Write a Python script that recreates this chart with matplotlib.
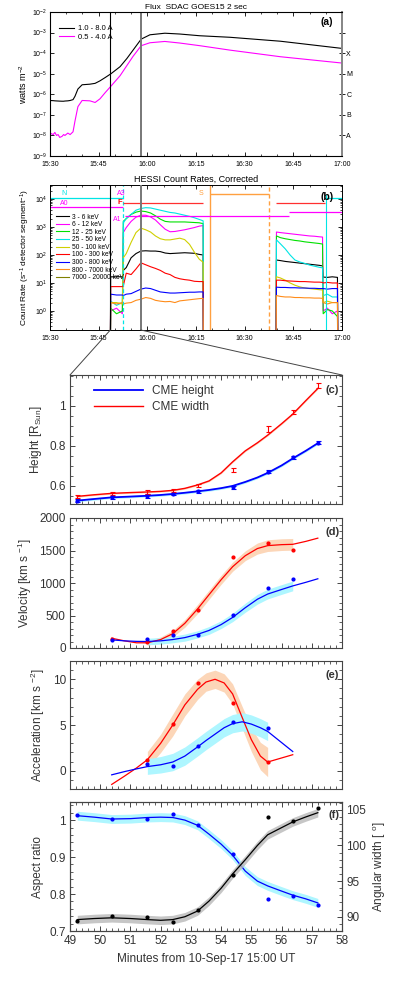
import numpy as np
import matplotlib
matplotlib.use("Agg")
import matplotlib.pyplot as plt
from matplotlib.ticker import MultipleLocator, FuncFormatter, LogLocator, NullFormatter, FixedLocator
from matplotlib.patches import ConnectionPatch

plt.rcParams['font.family'] = ['Liberation Sans', 'DejaVu Sans']
plt.rcParams['mathtext.fontset'] = 'custom'
plt.rcParams['mathtext.rm'] = 'Liberation Sans'
plt.rcParams['mathtext.it'] = 'Liberation Sans:italic'
plt.rcParams['mathtext.bf'] = 'Liberation Sans:bold'

nan = np.nan

# ---------------- (a) GOES-15 flux, time in minutes after 15:00 UT
goes_t = [30, 31.0, 31.5, 32.0, 32.5, 33.0, 33.7, 34.2, 34.6, 35.5, 36.2, 37.1, 37.7, 38.6,
          39.9, 42.3, 43.9, 45.4, 47.0, 48.8, 51.6, 53.7, 55.6, 58.1, 60.8, 65.4, 70.0,
          76.2, 85.5, 101.0, 120.0]
goes_long = [5e-7, 4.9e-7, 4.8e-7, 4.75e-7, 4.7e-7, 4.65e-7, 4.6e-7, 4.6e-7, 4.7e-7, 4.8e-7,
             5e-7, 5.5e-7, 8e-7, 1.8e-6, 2.9e-6, 3.1e-6, 3.4e-6, 4.5e-6, 6.5e-6, 1e-5,
             2.2e-5, 5.5e-5, 1.4e-4, 4.8e-4, 7.8e-4, 9.3e-4, 8.5e-4, 7e-4, 5.9e-4, 3.8e-4, 1.7e-4]
goes_short = [1.3e-8, 1.1e-8, 1.4e-8, 1.0e-8, 1.1e-8, 8e-9, 9e-9, 1.1e-8, 1e-8, 1.3e-8,
              1.1e-8, 1.5e-8, 5e-8, 2.5e-7, 5e-7, 4.8e-7, 4e-7, 6e-7, 1.2e-6, 2.5e-6,
              8e-6, 2.5e-5, 7e-5, 2.3e-4, 3.2e-4, 3.7e-4, 3.1e-4, 2.3e-4, 1.4e-4, 6.7e-5, 3.3e-5]
goes_classes = ['', 'X', 'M', 'C', 'B', 'A']
goes_class_levels = [1e-3, 1e-4, 1e-5, 1e-6, 1e-7, 1e-8]
vline_t = [48.6, 58.0]

# ---------------- (b) RHESSI count rates, log10(counts), F = below axis (no data)
F = -1.5
hessi_t = [48.6, 48.7, 50.5, 52.3, 52.6, 53.5, 55.0, 56.5, 58.0, 59.5, 61.0, 62.5, 64.0, 65.5,
           67.0, 68.5, 70.0, 71.5, 73.0, 74.5, 76.0, 77.2, 77.3,
           99.7, 99.8, 101.0, 102.5, 104.0, 105.5, 107.0, 108.5, 110.0, 111.5, 113.0, 114.0,
           114.2, 115.5, 117.0, 118.6, 118.7]
log_3_6 = [F, 1.22, 1.22, 1.22, 1.45, 1.55, 1.9, 2.05, 2.14, 2.15, 2.14, 2.14, 2.12, 2.07,
           2.05, 2.06, 2.07, 2.08, 2.07, 2.06, 2.02, 2.0, F,
           F, 1.82, 1.8, 1.77, 1.75, 1.73, 1.71, 1.69, 1.67, 1.65, 1.63, 1.61,
           1.21, 1.2, 1.22, 1.2, F]
log_6_12 = [F, 0.0, 0.1, -0.1, 2.8, 2.98, 3.2, 3.35, 3.42, 3.42, 3.36, 3.25, 3.08, 2.92,
            2.83, 2.84, 2.87, 2.9, 2.94, 2.98, 3.03, 3.05, F,
            F, 2.82, 2.8, 2.78, 2.76, 2.74, 2.72, 2.7, 2.68, 2.67, 2.65, 2.64,
            0.0, 0.1, -0.1, 0.0, F]
log_12_25 = [F, 0.1, -0.1, 0.0, 3.2, 3.3, 3.45, 3.53, 3.57, 3.55, 3.5, 3.4, 3.28, 3.2,
             3.18, 3.18, 3.18, 3.18, 3.17, 3.16, 3.15, 3.12, F,
             F, 2.68, 2.62, 2.58, 2.55, 2.52, 2.5, 2.47, 2.45, 2.43, 2.41, 2.39,
             -0.1, 0.05, 0.0, -0.2, F]
log_25_50 = [F, 0.35, 0.2, 0.3, 3.15, 3.3, 3.45, 3.6, 3.66, 3.69, 3.68, 3.64, 3.6, 3.56,
             3.52, 3.5, 3.46, 3.42, 3.38, 3.33, 3.27, 3.22, F,
             F, 2.54, 2.4, 2.22, 2.0, 1.82, 1.75, 1.7, 1.64, 1.6, 1.56, 1.54,
             0.55, 0.6, 0.5, 0.5, F]
log_50_100 = [F, 0.3, 0.3, 0.25, 1.9, 2.05, 2.45, 2.8, 2.96, 2.9, 2.82, 2.68, 2.58, 2.54,
              2.54, 2.57, 2.6, 2.55, 2.38, 2.1, 1.85, 1.74, F,
              F, 1.22, 1.18, 1.1, 1.0, 0.92, 0.86, 0.82, 0.8, 0.78, 0.76, 0.75,
              0.3, 0.35, 0.3, 0.3, F]
log_100_300 = [F, 0.87, 0.87, 0.87, 0.9, 1.35, 1.3, 1.5, 1.72, 1.65, 1.58, 1.52, 1.45, 1.35,
               1.3, 1.2, 1.15, 1.12, 1.1, 1.06, 1.05, 1.05, F,
               F, 1.1, 1.1, 1.08, 1.07, 1.06, 1.05, 1.05, 1.04, 1.03, 1.03, 1.02,
               1.0, 1.02, 1.0, 1.0, F]
log_300_800 = [F, 0.6, 0.57, 0.57, 0.55, 0.6, 0.62, 0.7, 0.78, 0.82, 0.8, 0.74, 0.68, 0.66,
               0.64, 0.64, 0.65, 0.66, 0.67, 0.67, 0.68, 0.68, F,
               F, 0.85, 0.84, 0.84, 0.83, 0.83, 0.82, 0.82, 0.81, 0.81, 0.8, 0.8,
               0.8, 0.78, 0.8, 0.8, F]
log_800_7000 = [F, 0.3, 0.25, 0.3, 0.25, 0.28, 0.3, 0.38, 0.42, 0.48, 0.45, 0.38, 0.35, 0.33,
                0.34, 0.3, 0.36, 0.38, 0.4, 0.42, 0.44, 0.45, F,
                F, 0.55, 0.52, 0.5, 0.5, 0.48, 0.48, 0.47, 0.47, 0.46, 0.46, 0.45,
                0.3, 0.25, 0.3, 0.3, F]
log_7000_20000 = [F] * len(hessi_t)
hessi_labels = ['3 - 6 keV', '6 - 12 keV', '12 - 25 keV', '25 - 50 keV', '50 - 100 keV',
                '100 - 300 keV', '300 - 800 keV', '800 - 7000 keV', '7000 - 20000 keV']
hessi_colors = ['black', '#ff00ff', '#00e000', '#00e5e5', '#d0d000', '#ff0000',
                '#0000ff', '#ff8c1a', '#808000']

# ---------------- (c)-(f) CME kinematics, minutes after 15:00 UT
t_obs = [49.24, 50.38, 51.56, 52.40, 53.22, 54.38, 55.54, 56.37, 57.20]
height_obs = [0.527, 0.544, 0.550, 0.560, 0.574, 0.594, 0.670, 0.743, 0.815]
height_err = [0.007, 0.007, 0.008, 0.006, 0.007, 0.008, 0.007, 0.007, 0.008]
width_obs = [0.547, 0.563, 0.570, 0.576, 0.603, 0.680, 0.884, 0.967, 1.099]
width_err = [0.008, 0.008, 0.008, 0.008, 0.008, 0.009, 0.013, 0.010, 0.012]
aspect_obs = [1.013, 1.002, 1.004, 1.016, 0.988, 0.907, 0.786, 0.795, 0.770]
angle_obs = [89.45, 90.1, 90.0, 89.2, 90.9, 95.8, 103.95, 103.4, 105.3]

t_fit = [49.24, 49.8, 50.38, 51.0, 51.56, 52.0, 52.4, 52.8, 53.22, 53.6, 54.0, 54.38,
         54.8, 55.2, 55.54, 56.0, 56.37, 56.8, 57.2]
height_fit = [0.527, 0.535, 0.543, 0.547, 0.551, 0.555, 0.560, 0.566, 0.573, 0.580, 0.589,
              0.600, 0.620, 0.642, 0.665, 0.702, 0.737, 0.775, 0.813]
width_fit = [0.548, 0.556, 0.563, 0.567, 0.570, 0.573, 0.578, 0.588, 0.605, 0.625, 0.665,
             0.720, 0.775, 0.815, 0.853, 0.910, 0.958, 1.025, 1.086]
aspect_fit = [1.012, 1.008, 1.003, 1.004, 1.007, 1.008, 1.007, 1.0, 0.986, 0.962, 0.935,
              0.905, 0.862, 0.835, 0.822, 0.808, 0.797, 0.787, 0.776]
angle_fit = [89.6, 89.75, 89.85, 89.75, 89.6, 89.5, 89.6, 90.0, 90.8, 92.2, 94.0, 96.0,
             98.0, 100.0, 101.5, 102.5, 103.3, 104.0, 104.6]

t_vel_obs = [50.38, 51.56, 52.40, 53.22, 54.38, 55.54, 56.37]
vel_width_obs = [143, 92, 255, 589, 1405, 1610, 1508]
vel_height_obs = [123, 138, 200, 200, 502, 923, 1055]
t_vel_fit = [50.38, 50.8, 51.2, 51.56, 52.0, 52.4, 52.8, 53.22, 53.6, 54.0, 54.38, 54.8,
             55.2, 55.54, 56.0, 56.37, 56.8, 57.2]
vel_width_fit = [150, 110, 80, 80, 130, 220, 380, 600, 820, 1050, 1250, 1420, 1530, 1575,
                 1590, 1595, 1640, 1690]
vel_width_band = [nan, nan, nan, 40, 40, 50, 60, 70, 70, 70, 70, 75, 85, 90, 90, 90, nan, nan]
vel_height_fit = [125, 110, 102, 100, 110, 130, 160, 210, 270, 360, 470, 620, 750, 830,
                  900, 955, 1010, 1065]
vel_height_band = [nan, nan, nan, 50, 50, 50, 55, 55, 60, 60, 65, 70, 75, 75, 75, 75, nan, nan]

t_acc_obs = [51.56, 52.40, 53.22, 54.38, 55.54]
acc_width_obs = [1.15, 5.07, 9.6, 7.4, 0.95]
acc_height_obs = [0.72, 0.54, 2.68, 5.3, 4.65]
t_acc_fit = [50.38, 50.8, 51.2, 51.56, 52.0, 52.4, 52.8, 53.22, 53.5, 53.8, 54.1, 54.38,
             54.7, 55.0, 55.3, 55.54, 56.37]
acc_width_fit = [-1.5, -0.6, 0.3, 1.2, 3.0, 5.0, 7.2, 8.9, 9.7, 10.0, 9.6, 8.4, 5.8, 3.4,
                 1.6, 0.95, 1.75]
acc_width_band = [nan, nan, nan, 0.9, 1.0, 1.2, 1.2, 1.1, 1.0, 1.0, 1.0, 1.1, 1.2, 1.3,
                  1.5, 1.6, nan]
acc_height_fit = [-0.45, -0.1, 0.2, 0.45, 0.65, 0.95, 1.6, 2.6, 3.3, 4.0, 4.7, 5.15, 5.35,
                  5.1, 4.7, 4.3, 2.1]
acc_height_band = [nan, nan, nan, 0.85, 0.9, 0.95, 1.0, 1.0, 1.0, 1.0, 1.0, 1.0, 1.0, 1.0,
                   1.0, 1.0, nan]

BLUE, RED = '#0000ff', '#ff0000'
CYAN_BAND, PEACH_BAND, GRAY_BAND = '#aef6ff', '#fcd6b8', '#b8b8b8'
SPINE, TXT = '#444444', '#333333'

fig = plt.figure(figsize=(3.99, 9.82), dpi=100)
W, H = 399.0, 982.0


def box(x0, y0, x1, y1):
    return [x0 / W, 1 - y1 / H, (x1 - x0) / W, (y1 - y0) / H]


ax_a = fig.add_axes(box(50, 12, 342, 156))
ax_b = fig.add_axes(box(50, 185, 342, 330))
ax_c = fig.add_axes(box(70, 375, 342, 504))
ax_d = fig.add_axes(box(70, 518, 342, 648))
ax_e = fig.add_axes(box(70, 661, 342, 789))
ax_f = fig.add_axes(box(70, 802, 342, 931))


def hhmm(v, pos):
    v = int(round(v))
    return f"{15 + v // 60}:{v % 60:02d}"


for ax in (ax_a, ax_b):
    ax.set_xlim(30, 120)
    ax.xaxis.set_major_locator(MultipleLocator(15))
    ax.xaxis.set_minor_locator(MultipleLocator(5))
    ax.xaxis.set_major_formatter(FuncFormatter(hhmm))
    ax.tick_params(which='both', direction='in', top=True, labelsize=5, pad=2)
    ax.tick_params(axis='x', pad=3.5)
    ax.tick_params(which='major', length=3, width=0.6)
    ax.tick_params(which='minor', length=1.5, width=0.5)
    for s in ax.spines.values():
        s.set_linewidth(0.7)
    for t in vline_t:
        ax.axvline(t, color='black' if t == vline_t[0] else '#777777',
                   lw=0.8 if t == vline_t[0] else 1.4, zorder=5)

# ---- (a)
ax_a.set_yscale('log')
ax_a.set_ylim(1e-9, 1e-2)
ax_a.plot(goes_t, goes_long, color='black', lw=0.8, label='1.0 - 8.0 A')
ax_a.plot(goes_t, goes_short, color='#ff00ff', lw=0.8, label='0.5 - 4.0 A')
ax_a.yaxis.set_major_locator(LogLocator(base=10, numticks=12))
ax_a.yaxis.set_minor_locator(plt.NullLocator())
ax_a.tick_params(axis='y', which='both', right=False)
ax_a.set_ylabel('watts m$^{-2}$', fontsize=6.5, labelpad=2)
ax_a.set_title('Flux  SDAC GOES15 2 sec', fontsize=6, pad=2)
ax_a.spines['right'].set_color('#888888')
ax_a.spines['right'].set_linewidth(1.4)
ax_a.legend(loc='upper left', bbox_to_anchor=(0.02, 0.93), fontsize=5.5, frameon=False,
            handlelength=2.0, labelspacing=0.1, handletextpad=0.5, borderaxespad=0)
ax_a.text(0.97, 0.93, '(a)', transform=ax_a.transAxes, ha='right', va='center',
          fontsize=7.5, fontweight='bold')
ax_ar = ax_a.twinx()
ax_ar.set_yscale('log')
ax_ar.set_ylim(1e-9, 1e-2)
ax_ar.yaxis.set_major_locator(FixedLocator(goes_class_levels))
ax_ar.yaxis.set_minor_locator(plt.NullLocator())
ax_ar.set_yticklabels(goes_classes)
ax_ar.tick_params(axis='y', direction='inout', length=4, width=0.6, labelsize=5, pad=1)
ax_ar.spines['right'].set_color('#888888')
ax_ar.spines['right'].set_linewidth(1.4)

# ---- (b)
ax_b.set_yscale('log')
ax_b.set_ylim(10 ** -0.68, 10 ** 4.5)
band_logs = [log_3_6, log_6_12, log_12_25, log_25_50, log_50_100, log_100_300,
             log_300_800, log_800_7000, log_7000_20000]
for lg, lab, col in zip(band_logs, hessi_labels, hessi_colors):
    ax_b.plot(hessi_t, 10 ** np.array(lg), color=col, lw=0.8, label=lab)
ax_b.yaxis.set_major_locator(LogLocator(base=10, numticks=10))
ax_b.yaxis.set_minor_locator(LogLocator(base=10, subs=np.arange(2, 10), numticks=20))
ax_b.yaxis.set_minor_formatter(NullFormatter())
ax_b.tick_params(axis='y', which='both', right=True)
ax_b.set_ylabel('Count Rate (s$^{-1}$ detector segment$^{-1}$)', fontsize=6, labelpad=2)
ax_b.set_title('HESSI Count Rates, Corrected', fontsize=6.5, pad=2)
# attenuator / state markers
ax_b.axvline(52.4, color='#00e5e5', lw=0.9, ls=(0, (3, 2)))
ax_b.axvline(79.3, color='#ffa040', lw=1.0)
ax_b.axvline(97.5, color='#ffa040', lw=1.0, ls=(0, (3, 2)))
ax_b.axvline(115.1, color='#00e5e5', lw=0.8, ymax=0.93)
ax_b.hlines(10 ** 4.04, 30, 52.4, color='#00e5e5', lw=0.9)
ax_b.hlines(10 ** 4.04, 115.1, 120, color='#00e5e5', lw=0.9)
ax_b.hlines(10 ** 3.71, 30, 52.4, color='#ff00ff', lw=0.9)
ax_b.hlines(10 ** 3.86, 52.4, 77.3, color='#ff3030', lw=0.9)
ax_b.hlines(10 ** 3.86, 99.6, 114.8, color='#ff3030', lw=0.9)
ax_b.hlines(10 ** 3.39, 53.1, 103.7, color='#ff00ff', lw=0.9)
ax_b.hlines(10 ** 3.54, 103.7, 120, color='#ff00ff', lw=0.9)
ax_b.hlines(10 ** 4.18, 79.3, 97.5, color='#ffa040', lw=1.0)
ax_b.text(33.5, 10 ** 4.2, 'N', color='#00e5e5', fontsize=5, va='center')
ax_b.text(33.2, 10 ** 3.84, 'A0', color='#ff00ff', fontsize=5, va='center')
ax_b.text(50.6, 10 ** 4.21, 'A3', color='#ff00ff', fontsize=5, va='center')
ax_b.text(50.9, 10 ** 3.86, 'F', color='#ff0000', fontsize=5.5, va='center', fontweight='bold')
ax_b.text(49.3, 10 ** 3.25, 'A1', color='#ff00ff', fontsize=5, va='center')
ax_b.text(75.8, 10 ** 4.2, 'S', color='#ffa040', fontsize=5, va='center')
ax_b.legend(loc='upper left', bbox_to_anchor=(0.01, 0.82), fontsize=4.8, frameon=False,
            handlelength=2.0, labelspacing=0.08, handletextpad=0.5, borderaxespad=0)
ax_b.text(0.97, 0.92, '(b)', transform=ax_b.transAxes, ha='right', va='center',
          fontsize=7.5, fontweight='bold')

# connectors from (b) to (c)
y_bot = ax_b.get_ylim()[0]
for t, xb in zip(vline_t, (0, 1)):
    con = ConnectionPatch(xyA=(t, y_bot), coordsA='data', axesA=ax_b,
                          xyB=(xb, 1), coordsB='axes fraction', axesB=ax_c,
                          color='#444444', lw=0.7)
    fig.add_artist(con)

# ---- (c)-(f) common style
for ax in (ax_c, ax_d, ax_e, ax_f):
    ax.set_xlim(49, 58)
    ax.xaxis.set_major_locator(MultipleLocator(1))
    ax.xaxis.set_minor_locator(MultipleLocator(0.2))
    ax.tick_params(which='both', direction='in', top=True, right=True,
                   labelsize=8.5, colors=SPINE, labelcolor=TXT, pad=3)
    ax.tick_params(which='major', length=3.5, width=0.7)
    ax.tick_params(which='minor', length=2, width=0.6)
    for s in ax.spines.values():
        s.set_color(SPINE)
        s.set_linewidth(0.8)
for ax in (ax_c, ax_d, ax_e):
    ax.tick_params(axis='x', labelbottom=False)

# (c)
tf = np.array(t_fit)
ax_c.fill_between(tf, np.array(height_fit) - 0.006, np.array(height_fit) + 0.006,
                  color=CYAN_BAND, lw=0)
ax_c.fill_between(tf, np.array(width_fit) - 0.004, np.array(width_fit) + 0.004,
                  color=PEACH_BAND, lw=0)
ax_c.plot(t_fit, height_fit, color=BLUE, lw=1.3, label='CME height')
ax_c.plot(t_fit, width_fit, color=RED, lw=1.0, label='CME width')
ax_c.errorbar(t_obs, height_obs, yerr=height_err, fmt='o', ms=2, color=BLUE,
              capsize=1.8, elinewidth=0.8, capthick=0.8)
ax_c.errorbar(t_obs, width_obs, yerr=width_err, fmt='none', color=RED,
              capsize=1.8, elinewidth=0.8, capthick=0.8)
ax_c.set_ylim(0.51, 1.153)
ax_c.yaxis.set_major_locator(MultipleLocator(0.2))
ax_c.yaxis.set_minor_locator(MultipleLocator(0.05))
ax_c.yaxis.set_major_formatter(FuncFormatter(lambda v, p: f"{v:g}"))
ax_c.set_ylabel('Height [R$_{\\rm Sun}$]', fontsize=8.5, color=TXT)
ax_c.legend(loc='upper left', bbox_to_anchor=(0.07, 0.96), fontsize=8.5, frameon=False,
            handlelength=4.2, labelspacing=0.35, handletextpad=0.7, borderaxespad=0,
            labelcolor=TXT)
ax_c.text(0.99, 0.88, '(c)', transform=ax_c.transAxes, ha='right', va='center',
          fontsize=8, fontweight='bold', color=TXT)

# (d)
tv = np.array(t_vel_fit)
ax_d.fill_between(tv, np.array(vel_width_fit) - np.array(vel_width_band),
                  np.array(vel_width_fit) + np.array(vel_width_band), color=PEACH_BAND, lw=0)
ax_d.fill_between(tv, np.array(vel_height_fit) - np.array(vel_height_band),
                  np.array(vel_height_fit) + np.array(vel_height_band), color=CYAN_BAND, lw=0)
ax_d.plot(t_vel_fit, vel_width_fit, color=RED, lw=0.9)
ax_d.plot(t_vel_fit, vel_height_fit, color=BLUE, lw=0.9)
ax_d.plot(t_vel_obs, vel_width_obs, 'o', ms=2, color=RED)
ax_d.plot(t_vel_obs, vel_height_obs, 'o', ms=2, color=BLUE)
ax_d.set_ylim(0, 2000)
ax_d.yaxis.set_major_locator(MultipleLocator(500))
ax_d.yaxis.set_minor_locator(MultipleLocator(100))
ax_d.set_ylabel('Velocity [km s $^{-1}$]', fontsize=8.5, color=TXT)
ax_d.text(0.99, 0.89, '(d)', transform=ax_d.transAxes, ha='right', va='center',
          fontsize=8, fontweight='bold', color=TXT)

# (e)
ta = np.array(t_acc_fit)
ax_e.fill_between(ta, np.array(acc_width_fit) - np.array(acc_width_band),
                  np.array(acc_width_fit) + np.array(acc_width_band), color=PEACH_BAND, lw=0)
ax_e.fill_between(ta, np.array(acc_height_fit) - np.array(acc_height_band),
                  np.array(acc_height_fit) + np.array(acc_height_band), color=CYAN_BAND, lw=0)
ax_e.plot(t_acc_fit, acc_width_fit, color=RED, lw=0.9)
ax_e.plot(t_acc_fit, acc_height_fit, color=BLUE, lw=0.9)
ax_e.plot(t_acc_obs, acc_width_obs, 'o', ms=2, color=RED)
ax_e.plot(t_acc_obs, acc_height_obs, 'o', ms=2, color=BLUE)
ax_e.set_ylim(-2, 12)
ax_e.yaxis.set_major_locator(MultipleLocator(5))
ax_e.yaxis.set_minor_locator(MultipleLocator(1))
ax_e.set_ylabel('Acceleration [km s $^{-2}$]', fontsize=8.5, color=TXT)
ax_e.text(0.99, 0.89, '(e)', transform=ax_e.transAxes, ha='right', va='center',
          fontsize=8, fontweight='bold', color=TXT)

# (f)
ax_f.fill_between(tf, np.array(aspect_fit) - 0.012, np.array(aspect_fit) + 0.012,
                  color=CYAN_BAND, lw=0)
ax_f.plot(t_fit, aspect_fit, color=BLUE, lw=0.9)
ax_f.plot(t_obs, aspect_obs, 'o', ms=2, color=BLUE)
ax_f.set_ylim(0.7, 1.049)
ax_f.yaxis.set_major_locator(MultipleLocator(0.1))
ax_f.yaxis.set_minor_locator(MultipleLocator(0.02))
ax_f.yaxis.set_major_formatter(FuncFormatter(lambda v, p: f"{v:g}"))
ax_f.tick_params(axis='y', which='both', right=False)
ax_f.set_ylabel('Aspect ratio', fontsize=8.5, color=TXT)
ax_f.set_xlabel('Minutes from 10-Sep-17 15:00 UT', fontsize=8.5, color=TXT)
ax_f2 = ax_f.twinx()
ax_f2.fill_between(tf, np.array(angle_fit) - 0.6, np.array(angle_fit) + 0.6,
                   color=GRAY_BAND, lw=0, alpha=0.8)
ax_f2.plot(t_fit, angle_fit, color='black', lw=0.9)
ax_f2.plot(t_obs, angle_obs, 'o', ms=2, color='black')
ax_f2.set_ylim(88, 106.1)
ax_f2.yaxis.set_major_locator(MultipleLocator(5))
ax_f2.yaxis.set_minor_locator(MultipleLocator(1))
ax_f2.tick_params(which='both', direction='in', labelsize=8.5, colors=SPINE,
                  labelcolor=TXT, pad=3)
ax_f2.tick_params(which='major', length=3.5, width=0.7)
ax_f2.tick_params(which='minor', length=2, width=0.6)
for s in ax_f2.spines.values():
    s.set_color(SPINE)
    s.set_linewidth(0.8)
ax_f2.set_ylabel('Angular width [ $^{\\rm o}$]', fontsize=8.5, color=TXT)
ax_f2.text(0.99, 0.9, '(f)', transform=ax_f2.transAxes, ha='right', va='center',
           fontsize=8, fontweight='bold', color=TXT)

fig.align_ylabels([ax_c, ax_d, ax_e, ax_f])
fig.savefig('out.png', dpi=100)
